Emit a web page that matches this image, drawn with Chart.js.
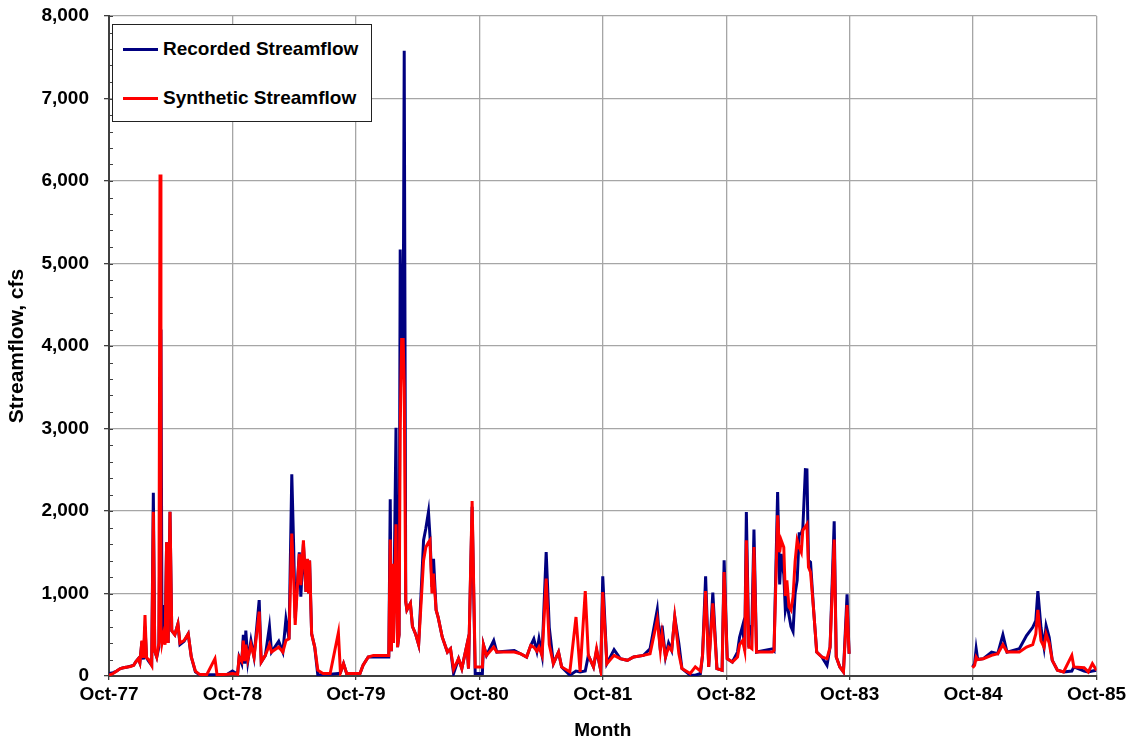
<!DOCTYPE html>
<html>
<head>
<meta charset="utf-8">
<script src="https://cdn.jsdelivr.net/npm/chart.js@4.4.1/dist/chart.umd.min.js"></script>
<style>
  body { margin: 0; background: #fff; font-family: 'Liberation Sans', Arial, sans-serif; }
  #wrap { position: relative; width: 1132px; height: 744px; }
  .legend { position: absolute; left: 112px; top: 24px; width: 258px; height: 96px; border: 1px solid #222; background: #fff; }
  .legend-row { position: absolute; left: 10px; height: 22px; display: flex; align-items: center; font-weight: bold; font-size: 19px; color: #000; white-space: nowrap; }
  .legend-row .swatch { width: 35px; height: 3px; margin-right: 5px; }
</style>
</head>
<body>
<div id="wrap">
  <canvas id="chartFlow"></canvas>
  <div class="legend" id="legend"></div>
</div>
<script>
// months since Oct-77 (x), daily streamflow in cfs
const months = [
  0.0, 0.4, 0.75, 1.1, 1.4, 1.8, 2.1, 2.4, 2.6, 2.85, 3.0, 3.2, 3.35, 3.5, 3.65, 3.85, 4.15, 4.31, 4.45, 4.64,
  4.85, 4.96, 5.05, 5.15, 5.3, 5.45, 5.6, 5.75, 5.93, 6.1, 6.4, 6.7, 6.9, 7.3, 7.7, 8.0, 8.4, 8.8, 9.5, 10.3,
  10.5, 11.5, 12.0, 12.5, 12.65, 12.9, 13.06, 13.2, 13.3, 13.5, 13.8, 14.1, 14.6, 14.8, 15.2, 15.6, 15.8, 16.5, 16.9, 17.2,
  17.5, 17.77, 17.95, 18.1, 18.5, 18.65, 18.9, 19.15, 19.3, 19.4, 19.5, 19.7, 20.0, 20.3, 20.8, 21.5, 22.3, 22.5, 22.8, 23.1,
  24.4, 24.7, 25.2, 25.7, 27.2, 27.34, 27.45, 27.55, 27.65, 27.9, 28.05, 28.2, 28.31, 28.45, 28.6, 28.7, 28.85, 28.96, 29.3, 29.5,
  29.8, 30.1, 30.3, 30.58, 30.8, 31.06, 31.2, 31.4, 31.55, 31.8, 32.0, 32.4, 32.9, 33.2, 33.5, 33.98, 34.3, 34.8, 34.95, 35.3,
  35.6, 36.3, 36.4, 36.7, 37.4, 37.7, 39.4, 40.0, 40.6, 41.0, 41.3, 41.6, 41.8, 42.1, 42.5, 42.8, 43.2, 43.7, 44.0, 44.8,
  45.4, 45.8, 46.3, 46.6, 47.1, 47.4, 47.8, 48.0, 48.4, 49.1, 49.7, 50.4, 51.0, 51.96, 52.6, 53.3, 53.6, 53.77, 54.1, 54.4,
  54.7, 55.0, 55.4, 55.7, 56.5, 57.0, 57.5, 57.7, 58.0, 58.3, 58.7, 59.1, 59.6, 59.8, 60.1, 60.6, 61.1, 61.3, 61.6, 61.8,
  61.96, 62.2, 62.3, 62.5, 62.7, 62.95, 64.5, 64.65, 65.0, 65.2, 65.35, 65.6, 65.75, 65.9, 66.1, 66.3, 66.5, 66.7, 66.9, 67.1,
  67.3, 67.45, 67.7, 67.85, 68.0, 68.2, 68.5, 68.8, 69.3, 69.8, 70.1, 70.5, 70.7, 71.05, 71.4, 71.75, 71.95, 78.0, 83.95, 84.15,
  84.3, 84.45, 85.0, 85.8, 86.4, 86.9, 87.3, 88.5, 89.2, 89.8, 90.1, 90.3, 90.6, 90.9, 91.1, 91.4, 91.7, 92.2, 92.8, 93.6,
  93.8, 94.8, 95.2, 95.6, 96.0
];

const recordedFlow = [
  30, 40, 60, 90, 100, 110, 120, 130, 170, 210, 160, 420, 200, 600, 220, 180, 130, 2220, 300, 230,
  350, 2000, 4200, 500, 860, 400, 1620, 400, 1990, 550, 500, 630, 380, 420, 510, 230, 50, 15, 15, 15,
  15, 20, 60, 20, 230, 150, 500, 150, 550, 180, 430, 230, 920, 170, 250, 600, 290, 420, 290, 690,
  450, 2445, 1580, 700, 1500, 960, 1600, 1020, 1400, 1000, 1400, 510, 350, 10, 20, 20, 30, 40, 150, 30,
  30, 130, 230, 230, 230, 2142, 300, 1340, 400, 3010, 350, 500, 5170, 4000, 4100, 7580, 900, 800, 880, 600,
  510, 380, 900, 1645, 1787, 1988, 1700, 1080, 1420, 800, 710, 470, 290, 330, 30, 210, 90, 380, 90, 2050,
  30, 30, 380, 250, 430, 290, 310, 270, 230, 370, 450, 300, 450, 250, 1503, 590, 150, 290, 110, 10,
  60, 50, 60, 250, 110, 310, 70, 1208, 150, 320, 210, 190, 230, 250, 330, 805, 310, 610, 230, 400,
  310, 715, 390, 90, 10, 10, 30, 250, 1208, 110, 1010, 90, 70, 1403, 210, 170, 290, 470, 610, 310,
  1988, 350, 590, 610, 1774, 290, 330, 310, 2230, 1110, 1480, 1230, 800, 900, 740, 600, 540, 1000, 1160, 1725,
  1725, 1790, 2502, 2500, 1400, 1380, 800, 290, 230, 130, 350, 1875, 230, 110, 50, 990, 270, null, 110, 150,
  330, 200, 210, 290, 270, 500, 290, 330, 490, 590, 670, 1030, 590, 350, 610, 470, 190, 70, 50, 60,
  110, 60, 50, 60, 70
];

const syntheticFlow = [
  10, 30, 60, 90, 100, 110, 115, 130, 170, 210, 160, 430, 220, 740, 220, 200, 130, 1990, 300, 230,
  400, 6080, 600, 400, 500, 380, 1620, 400, 1990, 550, 500, 630, 400, 430, 510, 230, 60, 20, 15, 210,
  15, 20, 30, 20, 230, 180, 430, 180, 380, 200, 380, 230, 780, 170, 250, 380, 290, 350, 290, 430,
  450, 1726, 1200, 620, 1480, 1100, 1645, 1020, 1420, 1000, 1400, 510, 350, 70, 30, 30, 525, 40, 150, 30,
  30, 130, 230, 250, 250, 1653, 300, 1360, 400, 1838, 350, 500, 3000, 4080, 4080, 3500, 900, 800, 880, 600,
  510, 380, 800, 1400, 1560, 1620, 1645, 1000, 1240, 800, 710, 470, 290, 330, 80, 210, 90, 380, 90, 2121,
  110, 110, 380, 250, 350, 290, 290, 270, 230, 370, 350, 300, 350, 250, 1180, 380, 150, 290, 110, 50,
  715, 50, 1030, 250, 110, 330, 70, 1018, 150, 250, 210, 190, 230, 250, 270, 685, 310, 510, 230, 350,
  310, 715, 270, 90, 30, 110, 60, 250, 1030, 110, 880, 90, 70, 1260, 210, 170, 230, 380, 430, 310,
  1645, 350, 350, 330, 1564, 290, 290, 310, 1948, 1500, 1645, 1560, 970, 1160, 840, 800, 960, 1390, 1645, 1560,
  1500, 1765, 1810, 1840, 1320, 1260, 800, 290, 230, 210, 350, 1653, 230, 110, 50, 860, 270, null, 100, 130,
  230, 200, 210, 250, 270, 380, 290, 290, 350, 380, 510, 800, 430, 350, 510, 400, 190, 70, 50, 250,
  110, 100, 50, 150, 70
];

const tickLabels = ['Oct-77', 'Oct-78', 'Oct-79', 'Oct-80', 'Oct-81', 'Oct-82', 'Oct-83', 'Oct-84', 'Oct-85'];

const seriesNames = ['Recorded Streamflow', 'Synthetic Streamflow'];
const seriesColors = ['#000080', '#ff0000'];

const fontFamily = "'Liberation Sans', Arial, sans-serif";
const gridColor = '#a6a6a6';
const axisColor = '#404040';

// small inward tick marks on the value axis, every 200 cfs
const minorTicks = {
  id: 'minorTicks',
  afterDraw(chart) {
    const y = chart.scales.y;
    const left = chart.chartArea.left;
    const ctx = chart.ctx;
    ctx.save();
    ctx.strokeStyle = axisColor;
    ctx.lineWidth = 1;
    for (let v = 0; v <= 8000; v += 200) {
      const py = Math.round(y.getPixelForValue(v)) + 0.5;
      ctx.beginPath();
      ctx.moveTo(left, py);
      ctx.lineTo(left + 4, py);
      ctx.stroke();
    }
    ctx.restore();
  }
};

const toPoints = arr => months.map((m, i) => ({ x: m, y: arr[i] }));

const ctxFlow = document.getElementById('chartFlow').getContext('2d');
new Chart(ctxFlow, {
  type: 'line',
  data: {
    datasets: [
      {
        label: seriesNames[0],
        data: toPoints(recordedFlow),
        borderColor: seriesColors[0],
        borderWidth: 3,
        pointRadius: 0,
        tension: 0,
        spanGaps: false,
        order: 2
      },
      {
        label: seriesNames[1],
        data: toPoints(syntheticFlow),
        borderColor: seriesColors[1],
        borderWidth: 3,
        pointRadius: 0,
        tension: 0,
        spanGaps: false,
        order: 1
      }
    ]
  },
  options: {
    responsive: true, maintainAspectRatio: false,
    animation: false,
    layout: { padding: { left: 0, right: 35.5, top: 16, bottom: 0 } },
    plugins: { legend: { display: false }, tooltip: { enabled: false } },
    scales: {
      x: {
        type: 'linear', min: 0, max: 96,
        border: { color: axisColor, width: 2 },
        grid: { color: gridColor, lineWidth: 1.3, drawTicks: true, tickLength: 4, tickColor: axisColor },
        ticks: {
          stepSize: 12, maxRotation: 0, autoSkip: false, padding: 3, color: '#000',
          font: { family: fontFamily, size: 19, weight: 'bold' },
          callback: v => tickLabels[v / 12]
        },
        title: { display: true, text: 'Month', color: '#000', padding: { top: 0, bottom: 2 },
                 font: { family: fontFamily, size: 19, weight: 'bold' } },
        afterFit: scale => { scale.height = 68; }
      },
      y: {
        min: 0, max: 8000,
        border: { color: axisColor, width: 2 },
        grid: { color: gridColor, lineWidth: 1.3, drawTicks: true, tickLength: 5, tickColor: axisColor },
        ticks: {
          stepSize: 1000, padding: 15, color: '#000',
          font: { family: fontFamily, size: 19, weight: 'bold' },
          callback: v => v.toLocaleString('en-US')
        },
        title: { display: true, text: 'Streamflow, cfs', color: '#000', padding: { top: 5, bottom: 4 },
                 font: { family: fontFamily, size: 21, weight: 'bold' } },
        afterFit: scale => {
          scale.width = 109;
          scale.paddingTop = 0;
          scale.paddingBottom = 0;
        }
      }
    }
  },
  plugins: [minorTicks]
});

// legend box drawn inside the plot, as in the source chart
document.getElementById('legend').innerHTML = seriesNames.map((name, i) => `
  <div class="legend-row" style="top:${13 + i * 49}px">
    <div class="swatch" style="background:${seriesColors[i]}"></div>${name}
  </div>`).join('');
</script>
</body>
</html>
